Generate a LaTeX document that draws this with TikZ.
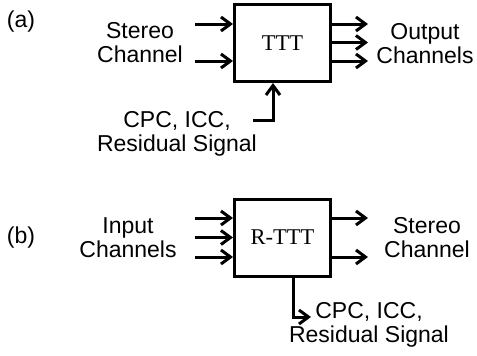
\documentclass[tikz,border=0pt]{standalone}
\usepackage{fontspec}
\setsansfont{Liberation Sans}
\newfontfamily\boxfont{Liberation Serif}
\usetikzlibrary{positioning,arrows.meta}

\begin{document}
\begin{tikzpicture}[
  x=1pt, y=-1pt,
  box/.style={draw, line width=3pt, minimum width=96pt, minimum height=77pt, inner sep=0pt, font=\boxfont\fontsize{22.5}{24}\selectfont},
  arrow/.style={-{Straight Barb[length=9.5pt,width=14pt]}, line width=3pt},
  label/.style={font=\sffamily\fontsize{23}{24}\selectfont, align=center, inner sep=0pt}
]
\useasboundingbox (0,0) rectangle (477,356);
% (a) forward
\node[box] (ttt) at (282.5,43) {TTT};
\node[label] (taga) at (21,22) {(a)};
\node[label] (stereoa) at (140,43) {Stereo\\Channel};
\node[label] (outa) at (425,44) {Output\\Channels};
\node[label] (cpca) at (177,134) {CPC, ICC,\\Residual Signal};
\coordinate (ina1) at (195,24);
\coordinate (ina2) at (195,61);
\coordinate (outa1) at (368,24);
\coordinate (outa2) at (368,42.5);
\coordinate (outa3) at (368,61);
\coordinate (ctrla) at (253,120);
\draw[arrow] (ina1) -- (ina1 -| ttt.west);
\draw[arrow] (ina2) -- (ina2 -| ttt.west);
\draw[arrow] (outa1 -| ttt.east) -- (outa1);
\draw[arrow] (outa2 -| ttt.east) -- (outa2);
\draw[arrow] (outa3 -| ttt.east) -- (outa3);
\draw[arrow] (ctrla) -| ([xshift=-9.5pt]ttt.south);
% (b) reverse
\node[box] (rttt) at (282.5,237.5) {R-TTT};
\node[label] (tagb) at (21,238) {(b)};
\node[label] (inb) at (128,238) {Input\\Channels};
\node[label] (stereob) at (427,238) {Stereo\\Channel};
\node[label] (cpcb) at (369,325) {CPC, ICC,\\Residual Signal};
\coordinate (inb1) at (195,218);
\coordinate (inb2) at (195,237.5);
\coordinate (inb3) at (195,257);
\coordinate (outb1) at (368,218);
\coordinate (outb2) at (368,257);
\coordinate (ctrlb) at (311,317);
\draw[arrow] (inb1) -- (inb1 -| rttt.west);
\draw[arrow] (inb2) -- (inb2 -| rttt.west);
\draw[arrow] (inb3) -- (inb3 -| rttt.west);
\draw[arrow] (outb1 -| rttt.east) -- (outb1);
\draw[arrow] (outb2 -| rttt.east) -- (outb2);
\draw[arrow] ([xshift=10.5pt]rttt.south) |- (ctrlb);
\end{tikzpicture}
\end{document}
